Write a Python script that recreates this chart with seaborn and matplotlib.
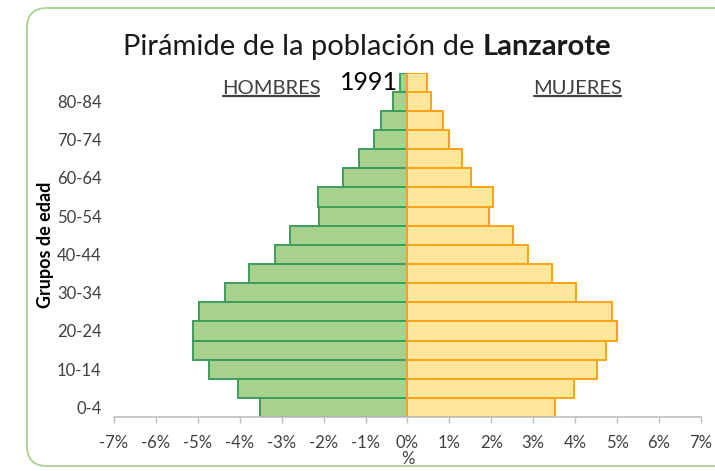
import numpy as np
import pandas as pd
import matplotlib.pyplot as plt
import seaborn as sns
from matplotlib.patches import FancyBboxPatch
from matplotlib.lines import Line2D
from matplotlib.transforms import IdentityTransform

# Age groups (bottom to top) and % of total population, Lanzarote 1991
ages = ['0-4', '5-9', '10-14', '15-19', '20-24', '25-29', '30-34', '35-39',
        '40-44', '45-49', '50-54', '55-59', '60-64', '65-69', '70-74',
        '75-79', '80-84', '85+']
men = [3.52, 4.05, 4.74, 5.11, 5.12, 4.97, 4.36, 3.78, 3.17,
       2.80, 2.10, 2.14, 1.53, 1.16, 0.80, 0.64, 0.34, 0.17]
women = [3.51, 3.96, 4.52, 4.74, 5.00, 4.88, 4.01, 3.44, 2.88,
         2.51, 1.95, 2.05, 1.51, 1.29, 0.98, 0.84, 0.57, 0.46]
xticks = list(range(-7, 8))
shown_labels = ages[::2]

df = pd.DataFrame({'edad': ages,
                   'hombres': [-v for v in men],
                   'mujeres': women})
order = ages[::-1]

sns.set_theme(style='white')
plt.rcParams['font.family'] = ['Lato', 'DejaVu Sans']
plt.rcParams['axes.unicode_minus'] = False

txt = '#404040'
fig = plt.figure(figsize=(7.15, 4.71), dpi=100)
ax = fig.add_axes([0.1594, 0.1146, 0.8210, 0.7310])

sns.barplot(data=df, x='hombres', y='edad', order=order, orient='h',
            color='#A9D18E', edgecolor='#3E9C5C', linewidth=1.4,
            width=1, saturation=1, ax=ax)
sns.barplot(data=df, x='mujeres', y='edad', order=order, orient='h',
            color='#FFE699', edgecolor='#FFA21A', linewidth=1.4,
            width=1, saturation=1, ax=ax)

ax.set_xlim(-7, 7)
ax.set_ylim(len(order) - 0.5, -0.5)
ax.set_xticks(xticks)
ax.set_xticklabels([f'{t}%' for t in xticks], fontsize=12, color=txt)
ax.set_yticks([order.index(a) for a in shown_labels])
ax.set_yticklabels(shown_labels, fontsize=12, color=txt)
ax.tick_params(axis='y', length=0, pad=9)
ax.tick_params(axis='x', length=4, width=1, color='#BFBFBF',
               direction='out', bottom=True, pad=9)
for s in ['top', 'right', 'left']:
    ax.spines[s].set_visible(False)
ax.spines['bottom'].set_color('#BFBFBF')
ax.spines['bottom'].set_linewidth(1.2)
ax.set_xlabel('%', fontsize=12, color=txt, labelpad=0)
ax.set_ylabel('Grupos de edad', fontsize=13, fontweight='bold', color='black',
              labelpad=2)

# title with bold island name
t1 = fig.text(0, 0.900, 'Pirámide de la población de ', fontsize=21,
              color='#1a1a1a', va='center', ha='left')
t2 = fig.text(0, 0.900, 'Lanzarote', fontsize=21, fontweight='bold',
              color='#1a1a1a', va='center', ha='left')
fig.text(0.516, 0.824, '1991', fontsize=18, color='black',
         va='center', ha='center')
h = fig.text(0.379, 0.813, 'HOMBRES', fontsize=14.5, color=txt,
             va='center', ha='center')
m = fig.text(0.808, 0.813, 'MUJERES', fontsize=14.5, color=txt,
             va='center', ha='center')

fig.canvas.draw()
r = fig.canvas.get_renderer()
w1 = t1.get_window_extent(r).width
w2 = t2.get_window_extent(r).width
x0 = 367 - (w1 + w2) / 2
t1.set_x(x0 / 715)
t2.set_x((x0 + w1) / 715)

for t in (h, m):
    bb = t.get_window_extent(r)
    fig.add_artist(Line2D([bb.x0 + 1, bb.x1 - 1], [bb.y0 + 1, bb.y0 + 1],
                          transform=IdentityTransform(), color=txt, lw=1.6))

# rounded chart-area border
frame = FancyBboxPatch((27, 5), 720, 458, boxstyle='round,pad=0,rounding_size=20',
                       transform=IdentityTransform(), facecolor='none',
                       edgecolor='#A9D18E', linewidth=1.3)
fig.add_artist(frame)

fig.savefig('out.png', dpi=100)
